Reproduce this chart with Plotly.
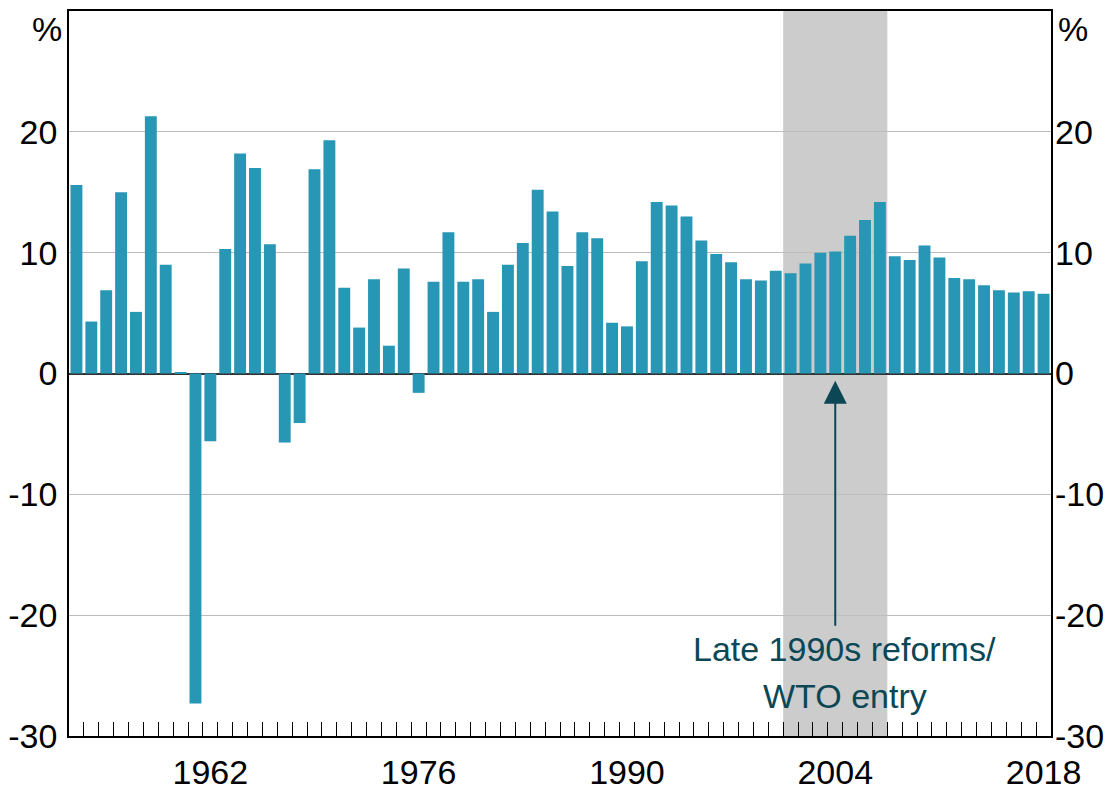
import plotly.graph_objects as go

years = list(range(1953, 2019))
growth = [15.6, 4.3, 6.9, 15.0, 5.1, 21.3, 9.0, 0.1, -27.3, -5.6,
          10.3, 18.2, 17.0, 10.7, -5.7, -4.1, 16.9, 19.3, 7.1, 3.8,
          7.8, 2.3, 8.7, -1.6, 7.6, 11.7, 7.6, 7.8, 5.1, 9.0,
          10.8, 15.2, 13.4, 8.9, 11.7, 11.2, 4.2, 3.9, 9.3, 14.2,
          13.9, 13.0, 11.0, 9.9, 9.2, 7.8, 7.7, 8.5, 8.3, 9.1,
          10.0, 10.1, 11.4, 12.7, 14.2, 9.7, 9.4, 10.6, 9.6, 7.9,
          7.8, 7.3, 6.9, 6.7, 6.8, 6.6]
year_labels = [1962, 1976, 1990, 2004, 2018]
y_ticks = [-30, -20, -10, 0, 10, 20]
shade_start, shade_end = 2001, 2007
arrow_year = 2004
note_lines = ["Late 1990s reforms/", "WTO entry"]

FONT = "Liberation Sans, Arial, sans-serif"
BAR = "#2896B5"
NOTE = "#0B4755"
FS = 34

fig = go.Figure()
fig.add_trace(go.Bar(x=years, y=growth, marker_color=BAR, marker_line_width=0,
                     showlegend=False, xaxis="x", yaxis="y"))
fig.add_trace(go.Scatter(x=[years[0]], y=[0], mode="markers", opacity=0,
                         showlegend=False, xaxis="x2", yaxis="y2", hoverinfo="skip"))

xr = [years[0] - 0.5, years[-1] + 0.5]
boundaries = [y + 0.5 for y in years[:-1]]

fig.update_layout(
    width=1113, height=792,
    margin=dict(l=69, r=62, t=11, b=56),
    paper_bgcolor="white", plot_bgcolor="white",
    bargap=0.2,
    font=dict(family=FONT, size=FS, color="black"),
    xaxis=dict(range=xr, tickmode="array", tickvals=boundaries, ticktext=[""] * len(boundaries),
               ticks="inside", ticklen=14, tickwidth=1.3, tickcolor="black",
               showgrid=False, zeroline=False, showline=True, linecolor="black", linewidth=1.5,
               mirror=True, automargin=False),
    xaxis2=dict(range=xr, overlaying="x", side="bottom", tickmode="array",
                tickvals=year_labels, ticktext=[str(v) for v in year_labels],
                ticks="", showgrid=False, zeroline=False, showline=False,
                tickfont=dict(size=FS), ticklabelstandoff=13, automargin=False),
    yaxis=dict(range=[-30, 30], tickmode="array", tickvals=y_ticks,
               ticktext=[str(v) for v in y_ticks], ticks="",
               showgrid=True, gridcolor="#BDBDBD", gridwidth=1.2,
               zeroline=True, zerolinecolor="#333333", zerolinewidth=2,
               showline=True, linecolor="black", linewidth=1.5, mirror=True,
               tickfont=dict(size=FS), ticklabelstandoff=3, automargin=False),
    yaxis2=dict(range=[-30, 30], overlaying="y", side="right", tickmode="array",
                tickvals=y_ticks, ticktext=[str(v) for v in y_ticks], ticks="",
                showgrid=False, zeroline=False, showline=False,
                tickfont=dict(size=FS), ticklabelstandoff=3, automargin=False),
)

fig.add_shape(type="rect", xref="x", yref="paper", x0=shade_start - 0.5, x1=shade_end + 0.5,
              y0=0, y1=1, fillcolor="#CCCCCC", line_width=0, layer="between")

fig.add_annotation(xref="paper", yref="paper", x=0, y=1, xshift=-22, yshift=-18,
                   text="%", showarrow=False, xanchor="center", yanchor="middle",
                   font=dict(size=FS, color="black"))
fig.add_annotation(xref="paper", yref="paper", x=1, y=1, xshift=22, yshift=-18,
                   text="%", showarrow=False, xanchor="center", yanchor="middle",
                   font=dict(size=FS, color="black"))

fig.add_annotation(x=arrow_year, y=-0.6, ax=arrow_year, ay=-21.0, xref="x", yref="y",
                   axref="x", ayref="y", text="", showarrow=True, arrowhead=2,
                   arrowsize=2.3, arrowwidth=2, arrowcolor=NOTE)
fig.add_annotation(x=arrow_year + 0.65, y=-22.8, xref="x", yref="y", text=note_lines[0],
                   showarrow=False, font=dict(size=FS, color=NOTE), xanchor="center", yanchor="middle")
fig.add_annotation(x=arrow_year + 0.65, y=-26.7, xref="x", yref="y", text=note_lines[1],
                   showarrow=False, font=dict(size=FS, color=NOTE), xanchor="center", yanchor="middle")

fig.write_html("out.html", config={"displayModeBar": False},
               post_script="document.body.style.margin='0';document.body.style.overflow='hidden';")
